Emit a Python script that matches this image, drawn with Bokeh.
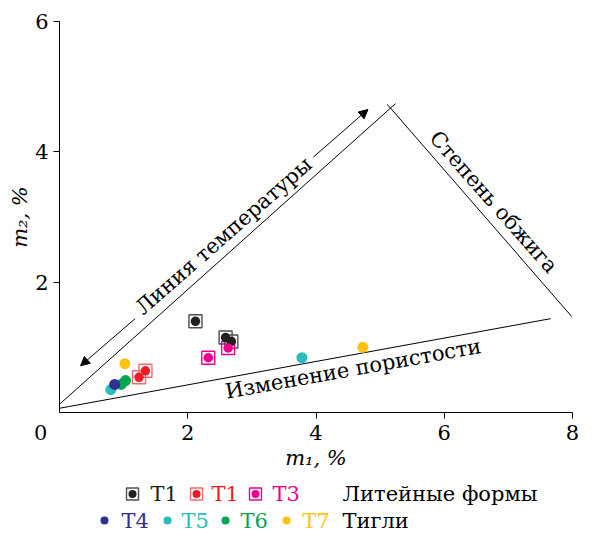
from bokeh.plotting import figure
from bokeh.models import Range1d, Arrow, NormalHead, FixedTicker
from bokeh.layouts import column
from bokeh.embed import file_html
from bokeh.resources import INLINE
from bokeh.core.properties import value

FONT = "DejaVu Serif"
FS = "21px"

# ---------------- data (m1, m2 in %) ----------------
t1_black_m1 = [2.12, 2.59, 2.68]
t1_black_m2 = [1.40, 1.15, 1.09]
t1_red_m1 = [1.34, 1.24]
t1_red_m2 = [0.64, 0.54]
t3_m1 = [2.32, 2.63]
t3_m2 = [0.84, 0.99]
t4_m1 = [0.86]
t4_m2 = [0.43]
t5_m1 = [0.80, 3.78]
t5_m2 = [0.35, 0.84]
t6_m1 = [0.96, 1.03]
t6_m2 = [0.43, 0.49]
t7_m1 = [1.02, 4.73]
t7_m2 = [0.75, 1.00]

x_ticks = [0, 2, 4, 6, 8]
x_tick_marks = [2, 4, 6, 8]
y_ticks = [2, 4, 6]
origin_label = "0" + "\u00a0" * 5 + "\u2009"   # origin "0" set to the left of the corner

# guide lines (data coordinates)
porosity_x = [0.0, 7.66]
porosity_y = [0.065, 1.44]
temp_base_x = [0.0, 5.24]
temp_base_y = [0.126, 4.74]
firing_x = [5.11, 7.99]
firing_y = [4.73, 1.47]
temp_arrow_low = [1.18, 1.44, 0.328, 0.717]   # x_start, y_start, x_end, y_end
temp_arrow_high = [3.96, 3.92, 4.81, 4.65]

annot_text = ["Линия температуры", "Изменение пористости", "Степень обжига"]
annot_x = [2.56, 4.58, 6.77]
annot_y = [2.71, 0.67, 3.23]
annot_angle = [0.72, 0.178, -0.848]

BLACK = "#231f20"
RED = "#ed1c24"
MAGENTA = "#ec008c"
NAVY = "#2e3192"
TEAL = "#2bbcbc"
GREEN = "#00a651"
YELLOW = "#ffc20e"

# ---------------- main plot ----------------
p = figure(width=582, height=472, x_range=Range1d(0, 8), y_range=Range1d(0, 6),
           output_backend="svg", toolbar_location=None,
           min_border_left=59, min_border_right=10, min_border_top=21,
           min_border_bottom=40)
p.frame_align = False
p.grid.visible = False
p.outline_line_color = None
p.background_fill_color = "white"

for ax in (p.xaxis[0], p.yaxis[0]):
    ax.axis_line_color = "black"
    ax.axis_line_width = 1
    ax.major_tick_line_color = "black"
    ax.major_tick_out = 6
    ax.major_tick_in = 0
    ax.minor_tick_line_color = None
    ax.major_label_text_font = FONT
    ax.major_label_text_font_size = FS
    ax.major_label_text_color = "black"
    ax.axis_label_text_font = FONT
    ax.axis_label_text_font_size = FS
    ax.axis_label_text_font_style = "italic"
    ax.axis_label_text_color = "black"

p.xaxis.ticker = FixedTicker(ticks=x_ticks, minor_ticks=x_tick_marks)
p.xaxis.major_tick_line_color = None
p.xaxis.minor_tick_line_color = "black"
p.xaxis.minor_tick_out = 6
p.xaxis.minor_tick_in = 0
p.xaxis.major_label_overrides = {0: origin_label}
p.yaxis.ticker = FixedTicker(ticks=y_ticks)
p.xaxis.major_label_standoff = 2
p.yaxis.major_label_standoff = 5
p.xaxis.axis_label = "m₁, %"
p.yaxis.axis_label = "m₂, %"
p.xaxis.axis_label_standoff = -2
p.yaxis.axis_label_standoff = 0

# guide lines
p.line(porosity_x, porosity_y, line_color="black", line_width=1)
p.line(temp_base_x, temp_base_y, line_color="black", line_width=1)
p.line(firing_x, firing_y, line_color="black", line_width=1)
for seg in (temp_arrow_low, temp_arrow_high):
    p.add_layout(Arrow(end=NormalHead(size=9, fill_color="black", line_color="black", line_width=1),
                       x_start=seg[0], y_start=seg[1], x_end=seg[2], y_end=seg[3],
                       line_color="black", line_width=1))

p.text(annot_x, annot_y, text=annot_text, angle=annot_angle,
       text_font=value(FONT), text_font_size=FS, text_color="black",
       text_align="center", text_baseline="middle")

# casting moulds: squares with dots
for xs, ys, sq in ((t1_black_m1, t1_black_m2, "#505050"),
                   (t1_red_m1, t1_red_m2, "#f36b6b"),
                   (t3_m1, t3_m2, MAGENTA)):
    p.scatter(xs, ys, marker="square", size=13, fill_color=None,
              line_color=sq, line_width=1.4)
for xs, ys, c in ((t1_black_m1, t1_black_m2, BLACK),
                  (t1_red_m1, t1_red_m2, RED),
                  (t3_m1, t3_m2, MAGENTA)):
    p.scatter(xs, ys, marker="circle", size=9.5, fill_color=c, line_color=None)

# crucibles: dots
for xs, ys, c in ((t5_m1, t5_m2, TEAL), (t6_m1, t6_m2, GREEN),
                  (t4_m1, t4_m2, NAVY), (t7_m1, t7_m2, YELLOW)):
    p.scatter(xs, ys, marker="circle", size=11, fill_color=c, line_color=None)

# ---------------- legend ----------------
leg_labels_1 = ["Т1", "Т1", "Т3"]
leg_colors_1 = [BLACK, RED, MAGENTA]
leg_sq_colors_1 = ["#505050", "#f36b6b", MAGENTA]
leg_marker_x_1 = [132, 196, 255]
leg_text_x_1 = [150, 211, 272]
leg_title_1 = "Литейные формы"

leg_labels_2 = ["Т4", "Т5", "Т6", "Т7"]
leg_colors_2 = [NAVY, TEAL, GREEN, YELLOW]
leg_marker_x_2 = [104, 167, 225, 286]
leg_text_x_2 = [121, 181, 240, 302]
leg_title_2 = "Тигли"
title_x = 342
row_y = [21.5, 48.0]

LH = 62
lg = figure(width=582, height=LH, x_range=Range1d(0, 582), y_range=Range1d(LH, 0),
            output_backend="svg", toolbar_location=None, min_border=0,
            x_axis_location=None, y_axis_location=None)
lg.frame_align = False
lg.grid.visible = False
lg.outline_line_color = None

lg.scatter(leg_marker_x_1, [row_y[0]] * 3, marker="square", size=12, fill_color=None,
           line_color=leg_sq_colors_1, line_width=1.4)
lg.scatter(leg_marker_x_1, [row_y[0]] * 3, marker="circle", size=8,
           fill_color=leg_colors_1, line_color=None)
lg.text(leg_text_x_1, [row_y[0]] * 3, text=leg_labels_1, text_color=leg_colors_1,
        text_font=value(FONT), text_font_size=FS, text_baseline="middle", text_align="left")
lg.text([title_x], [row_y[0]], text=[leg_title_1], text_color="black",
        text_font=value(FONT), text_font_size=FS, text_baseline="middle", text_align="left")

lg.scatter(leg_marker_x_2, [row_y[1]] * 4, marker="circle", size=8,
           fill_color=leg_colors_2, line_color=None)
lg.text(leg_text_x_2, [row_y[1]] * 4, text=leg_labels_2, text_color=leg_colors_2,
        text_font=value(FONT), text_font_size=FS, text_baseline="middle", text_align="left")
lg.text([title_x], [row_y[1]], text=[leg_title_2], text_color="black",
        text_font=value(FONT), text_font_size=FS, text_baseline="middle", text_align="left")

layout = column(p, lg, spacing=0)
open("out.html", "w").write(file_html(layout, INLINE))
